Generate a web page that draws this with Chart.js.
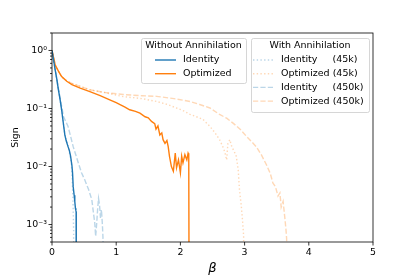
<!DOCTYPE html>
<html>
<head>
<meta charset="utf-8">
<script src="https://cdn.jsdelivr.net/npm/chart.js@4.4.1/dist/chart.umd.min.js"></script>
<style>
  html, body { margin: 0; padding: 0; background: #fff; }
  #wrap { width: 415px; height: 277px; }
</style>
</head>
<body>
<div id="wrap"><canvas id="chart" width="415" height="277"></canvas></div>
<script>
// values (sign vs beta, log axis); 1e-6 marks where the curve falls to zero
const idBeta = [0, 0.025, 0.05, 0.075, 0.1, 0.125, 0.15, 0.18, 0.2, 0.22, 0.25, 0.27, 0.29, 0.31, 0.32, 0.33, 0.345, 0.355, 0.365, 0.372, 0.376, 0.378];
const idSign = [1, 0.68, 0.46, 0.32, 0.21, 0.145, 0.095, 0.052, 0.035, 0.028, 0.022, 0.019, 0.015, 0.0105, 0.0078, 0.0045, 0.0032, 0.0025, 0.0019, 0.00174, 0.00166, 1e-6];

const optBeta = [0, 0.02, 0.05, 0.1, 0.15, 0.23, 0.31, 0.44, 0.59, 0.75, 0.9, 1.0, 1.06, 1.13, 1.21, 1.3, 1.37, 1.45, 1.5, 1.55, 1.6, 1.62, 1.65, 1.68, 1.71, 1.73, 1.76, 1.79, 1.81, 1.83, 1.86, 1.89, 1.92, 1.94, 1.97, 2.0, 2.02, 2.04, 2.07, 2.1, 2.12, 2.13, 2.14];
const optSign = [1, 0.79, 0.56, 0.44, 0.355, 0.295, 0.257, 0.224, 0.195, 0.166, 0.141, 0.126, 0.117, 0.107, 0.095, 0.089, 0.083, 0.072, 0.069, 0.06, 0.055, 0.044, 0.05, 0.035, 0.038, 0.029, 0.025, 0.028, 0.022, 0.015, 0.01, 0.0083, 0.017, 0.0095, 0.013, 0.0078, 0.015, 0.0115, 0.016, 0.013, 0.017, 0.016, 1e-6];

const id45Beta = [0, 0.05, 0.1, 0.15, 0.2, 0.25, 0.3, 0.315, 0.325, 0.332, 0.337, 0.34];
const id45Sign = [1, 0.46, 0.21, 0.095, 0.036, 0.023, 0.012, 0.006, 0.003, 0.0015, 0.0008, 1e-6];

const opt45Beta = [0, 0.05, 0.1, 0.15, 0.23, 0.31, 0.44, 0.59, 0.8, 1.11, 1.4, 1.63, 1.8, 1.94, 2.05, 2.15, 2.25, 2.35, 2.46, 2.54, 2.61, 2.66, 2.69, 2.72, 2.74, 2.77, 2.8, 2.84, 2.87, 2.9, 2.92, 2.95, 2.97, 2.985, 2.99];
const opt45Sign = [1, 0.56, 0.44, 0.35, 0.30, 0.27, 0.24, 0.21, 0.19, 0.16, 0.148, 0.132, 0.117, 0.102, 0.091, 0.079, 0.072, 0.065, 0.049, 0.038, 0.029, 0.022, 0.018, 0.013, 0.025, 0.029, 0.022, 0.018, 0.015, 0.0089, 0.004, 0.002, 0.0011, 0.00063, 1e-6];

const id450Beta = [0, 0.05, 0.1, 0.15, 0.18, 0.22, 0.25, 0.29, 0.33, 0.37, 0.41, 0.46, 0.51, 0.57, 0.62, 0.645, 0.665, 0.68, 0.695, 0.71, 0.725, 0.74, 0.755, 0.77, 0.785, 0.795, 0.8];
const id450Sign = [1, 0.47, 0.22, 0.11, 0.072, 0.058, 0.049, 0.033, 0.022, 0.016, 0.0115, 0.0078, 0.0059, 0.004, 0.0027, 0.0016, 0.0011, 0.00063, 0.001, 0.0018, 0.0028, 0.0022, 0.0013, 0.0018, 0.001, 0.00056, 1e-6];

const opt450Beta = [0, 0.05, 0.1, 0.15, 0.23, 0.31, 0.44, 0.59, 0.8, 1.11, 1.4, 1.63, 1.9, 2.15, 2.3, 2.46, 2.61, 2.72, 2.82, 2.93, 3.03, 3.1, 3.18, 3.26, 3.34, 3.4, 3.44, 3.48, 3.52, 3.55, 3.57, 3.6, 3.63, 3.645, 3.655, 3.66];
const opt450Sign = [1, 0.56, 0.44, 0.35, 0.30, 0.27, 0.24, 0.21, 0.19, 0.174, 0.166, 0.162, 0.148, 0.132, 0.117, 0.102, 0.079, 0.068, 0.056, 0.044, 0.033, 0.0275, 0.022, 0.016, 0.0107, 0.0076, 0.0052, 0.0045, 0.0031, 0.0035, 0.002, 0.0025, 0.0012, 0.0008, 0.00056, 1e-6];

const xTicks = [0, 1, 2, 3, 4, 5];
const yTicks = [1e-3, 1e-2, 1e-1, 1];
const yTickLabels = ['10\u207B\u00B3', '10\u207B\u00B2', '10\u207B\u00B9', '10\u2070'];

const BLUE = '#1f77b4';
const ORANGE = '#ff7f0e';
const LIGHT_BLUE = 'rgba(31,119,180,0.3)';
const LIGHT_ORANGE = 'rgba(255,127,14,0.3)';
const FONT = "'DejaVu Sans', sans-serif";

function pts(xs, ys) {
    return xs.map((x, i) => ({ x: x, y: ys[i] }));
}

function series(label, xs, ys, color, dash, order) {
    return {
        label: label,
        data: pts(xs, ys),
        borderColor: color,
        borderWidth: 1.4,
        borderDash: dash,
        pointRadius: 0,
        tension: 0,
        fill: false,
        order: order
    };
}

const datasets = [
    series('Identity', idBeta, idSign, BLUE, [], 0),
    series('Optimized', optBeta, optSign, ORANGE, [], 0),
    series('Identity     (45k)', id45Beta, id45Sign, LIGHT_BLUE, [1.4, 2.3], 1),
    series('Optimized (45k)', opt45Beta, opt45Sign, LIGHT_ORANGE, [1.4, 2.3], 1),
    series('Identity     (450k)', id450Beta, id450Sign, LIGHT_BLUE, [5.2, 2.2], 1),
    series('Optimized (450k)', opt450Beta, opt450Sign, LIGHT_ORANGE, [5.2, 2.2], 1)
];

// frame, tick marks (major + minor on the log axis) and the two legend boxes
const decorations = {
    id: 'decorations',
    afterDraw(chart) {
        const ctx = chart.ctx;
        const a = chart.chartArea;
        const xs = chart.scales.x;
        const ys = chart.scales.y;
        ctx.save();
        ctx.strokeStyle = '#000';
        ctx.lineWidth = 0.8;
        ctx.strokeRect(a.left, a.top, a.right - a.left, a.bottom - a.top);

        ctx.beginPath();
        xTicks.forEach(v => {
            const px = xs.getPixelForValue(v);
            ctx.moveTo(px, a.bottom);
            ctx.lineTo(px, a.bottom + 3.5);
        });
        for (let e = -4; e <= 0; e++) {
            for (let m = 1; m <= 9; m++) {
                const v = m * Math.pow(10, e);
                if (v < ys.min || v > ys.max) continue;
                const py = ys.getPixelForValue(v);
                const len = m === 1 ? 3.5 : 2;
                ctx.moveTo(a.left, py);
                ctx.lineTo(a.left - len, py);
            }
        }
        ctx.stroke();

        drawLegend(ctx, chart, { x: 141, y: 38, w: 105, h: 45 }, 'Without Annihilation', [0, 1]);
        drawLegend(ctx, chart, { x: 251, y: 38, w: 118, h: 74 }, 'With Annihilation', [2, 3, 4, 5]);
        ctx.restore();
    }
};

function drawLegend(ctx, chart, box, title, idx) {
    ctx.save();
    ctx.fillStyle = 'rgba(255,255,255,0.8)';
    ctx.strokeStyle = '#cccccc';
    ctx.lineWidth = 0.8;
    ctx.beginPath();
    ctx.roundRect(box.x + 0.5, box.y + 0.5, box.w, box.h, 2);
    ctx.fill();
    ctx.stroke();

    ctx.fillStyle = '#000';
    ctx.font = '9.5px ' + FONT;
    ctx.textBaseline = 'middle';
    ctx.textAlign = 'center';
    ctx.fillText(title, box.x + box.w / 2, box.y + 8);

    ctx.textAlign = 'left';
    idx.forEach((d, i) => {
        const ds = chart.data.datasets[d];
        const y = box.y + 22 + i * 13.7;
        const lx = box.x + (idx.length === 2 ? 14 : 2);
        ctx.strokeStyle = ds.borderColor;
        ctx.lineWidth = 1.4;
        ctx.setLineDash(ds.borderDash);
        ctx.beginPath();
        ctx.moveTo(lx, y);
        ctx.lineTo(lx + 21, y);
        ctx.stroke();
        ctx.setLineDash([]);
        ctx.fillStyle = '#000';
        ctx.fillText(ds.label, lx + 28, y);
    });
    ctx.restore();
}

new Chart(document.getElementById('chart'), {
    type: 'line',
    data: { datasets: datasets },
    plugins: [decorations],
    options: {
        responsive: false,
        animation: false,
        layout: { padding: { top: 33, right: 42, left: 0, bottom: 0 } },
        plugins: {
            legend: { display: false },
            tooltip: { enabled: false }
        },
        scales: {
            x: {
                type: 'linear',
                min: 0,
                max: 5,
                afterFit: s => { s.height = 35; },
                afterBuildTicks: s => { s.ticks = xTicks.map(v => ({ value: v })); },
                grid: { display: false, drawTicks: false },
                border: { display: false },
                ticks: { color: '#000', padding: 5, font: { family: FONT, size: 9.4 } },
                title: {
                    display: true,
                    text: '\u03B2',
                    color: '#000',
                    padding: { top: 0, bottom: 1 },
                    font: { family: FONT, size: 13, style: 'italic' }
                }
            },
            y: {
                type: 'logarithmic',
                min: 5e-4,
                max: 2,
                afterFit: s => { s.width = 52; },
                afterBuildTicks: s => { s.ticks = yTicks.map(v => ({ value: v })); },
                grid: { display: false, drawTicks: false },
                border: { display: false },
                ticks: {
                    color: '#000',
                    padding: 5,
                    font: { family: FONT, size: 9.4 },
                    callback: (v) => yTickLabels[yTicks.indexOf(v)]
                },
                title: {
                    display: true,
                    text: 'Sign',
                    color: '#000',
                    padding: { top: 10, bottom: 0 },
                    font: { family: FONT, size: 9.4 }
                }
            }
        }
    }
});
</script>
</body>
</html>
